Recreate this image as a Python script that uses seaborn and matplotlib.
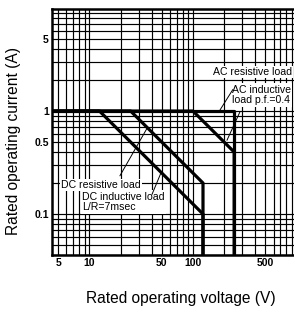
import numpy as np
import pandas as pd
import matplotlib
matplotlib.use("Agg")
import matplotlib.pyplot as plt
import seaborn as sns
from matplotlib.ticker import LogLocator, NullFormatter, FixedLocator, FixedFormatter

# ---- data ----
ac_res_v = [4.35, 250, 250]
ac_res_i = [1.0, 1.0, 0.04]
ac_ind_v = [4.35, 100, 250, 250]
ac_ind_i = [1.0, 1.0, 0.4, 0.04]
dc_res_v = [4.35, 25, 125, 125]
dc_res_i = [1.0, 1.0, 0.2, 0.04]
dc_ind_v = [4.35, 12.5, 125, 125]
dc_ind_i = [1.0, 1.0, 0.1, 0.04]

x_ticks = [5, 10, 50, 100, 500]
x_tick_labels = ["5", "10", "50", "100", "500"]
y_ticks = [0.1, 0.5, 1, 5]
y_tick_labels = ["0.1", "0.5", "1", "5"]

frames = []
for name, v, i in [("AC resistive", ac_res_v, ac_res_i),
                   ("AC inductive", ac_ind_v, ac_ind_i),
                   ("DC resistive", dc_res_v, dc_res_i),
                   ("DC inductive", dc_ind_v, dc_ind_i)]:
    frames.append(pd.DataFrame({"V": v, "I": i, "series": name,
                                "order": np.arange(len(v))}))
df = pd.concat(frames, ignore_index=True)

sns.set_style("white")
plt.rcParams["font.family"] = ["Liberation Sans", "DejaVu Sans"]
plt.rcParams["text.color"] = "black"
plt.rcParams["axes.labelcolor"] = "black"
plt.rcParams["xtick.color"] = "black"
plt.rcParams["ytick.color"] = "black"

fig = plt.figure(figsize=(2.94, 3.14), dpi=100)
ax = fig.add_axes([52/294, 1-255/314, 1-52/294, (255-9)/314])

ax.set_xscale("log")
ax.set_yscale("log")
ax.set_xlim(4.35, 946)
ax.set_ylim(0.04, 9.8)

# grid
ax.xaxis.set_major_locator(FixedLocator(x_ticks))
ax.xaxis.set_major_formatter(FixedFormatter(x_tick_labels))
ax.yaxis.set_major_locator(FixedLocator(y_ticks))
ax.yaxis.set_major_formatter(FixedFormatter(y_tick_labels))
ax.xaxis.set_minor_locator(LogLocator(base=10, subs=np.arange(1, 10)))
ax.yaxis.set_minor_locator(LogLocator(base=10, subs=np.arange(1, 10)))
ax.xaxis.set_minor_formatter(NullFormatter())
ax.yaxis.set_minor_formatter(NullFormatter())
ax.grid(True, which="minor", color="black", lw=0.85, zorder=0)
ax.grid(True, which="major", color="black", lw=0.85, zorder=0)
ax.set_axisbelow(True)
ax.tick_params(which="both", length=0, colors="black")
ax.tick_params(axis="x", pad=2.0, labelsize=7.5)
ax.tick_params(axis="y", pad=2.2, labelsize=7.5)
for lbl in ax.get_xticklabels() + ax.get_yticklabels():
    lbl.set_fontweight("bold")
    lbl.set_color("black")

sns.lineplot(data=df, x="V", y="I", units="series", estimator=None,
             sort=False, color="black", lw=2.3, ax=ax, legend=False,
             zorder=3)
ax.set_xlabel("")
ax.set_ylabel("")

for s in ["left", "top", "bottom"]:
    ax.spines[s].set_color("black")
    ax.spines[s].set_linewidth(1.8)
ax.spines["right"].set_visible(False)

box = dict(facecolor="white", edgecolor="none", pad=1.0)
fs = 7.6
ax.text(906, 2.39, "AC resistive load", ha="right", va="center",
        fontsize=fs, bbox=box, zorder=4, color="black")
ax.text(236, 1.43, "AC inductive\nload p.f.=0.4", ha="left", va="center",
        fontsize=fs, bbox=box, linespacing=1.1, zorder=4, color="black")
ax.text(5.3, 0.191, "DC resistive load", ha="left", va="center",
        fontsize=fs, bbox=box, zorder=4, color="black")
ax.text(8.5, 0.131, "DC inductive load\nL/R=7msec", ha="left", va="center",
        fontsize=fs, bbox=box, linespacing=1.1, zorder=4, color="black")

arrow = dict(arrowstyle="-", lw=0.7, color="black", shrinkA=0, shrinkB=0)
ax.annotate("", xy=(182, 1.02), xytext=(243, 1.62), arrowprops=arrow, zorder=5)
ax.annotate("", xy=(213, 0.52), xytext=(284, 0.98), arrowprops=arrow, zorder=5)
ax.annotate("", xy=(36, 0.68), xytext=(19.7, 0.235), arrowprops=arrow, zorder=5)
ax.annotate("", xy=(49, 0.25), xytext=(40.2, 0.155), arrowprops=arrow, zorder=5)

fig.text(181/294, 1-299/314, "Rated operating voltage (V)", ha="center",
         va="center", fontsize=11.2, color="black")
fig.text(14/294, 1-141/314, "Rated operating current (A)", ha="center",
         va="center", rotation=90, fontsize=11.2, color="black")

fig.savefig("out.png", dpi=100)
